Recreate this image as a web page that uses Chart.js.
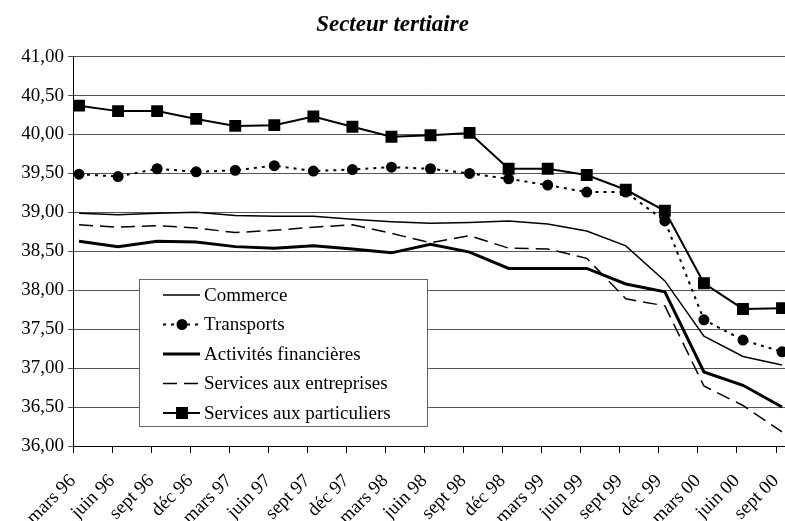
<!DOCTYPE html>
<html>
<head>
<meta charset="utf-8">
<script src="https://cdn.jsdelivr.net/npm/chart.js@4.4.0/dist/chart.umd.min.js"></script>
<style>
  html, body { margin: 0; padding: 0; background: #fff; }
  #wrap { width: 785px; height: 521px; }
</style>
</head>
<body>
<div id="wrap"><canvas id="chart"></canvas></div>
<script>
/* ── Data ───────────────────────────────────────── */
const categories = ['mars 96', 'juin 96', 'sept 96', 'déc 96', 'mars 97', 'juin 97', 'sept 97', 'déc 97',
  'mars 98', 'juin 98', 'sept 98', 'déc 98', 'mars 99', 'juin 99', 'sept 99', 'déc 99',
  'mars 00', 'juin 00', 'sept 00'];

const commerce     = [38.99, 38.97, 38.99, 39.00, 38.96, 38.95, 38.95, 38.91, 38.88, 38.86,
                      38.87, 38.89, 38.85, 38.76, 38.57, 38.12, 37.41, 37.15, 37.04];
const transports   = [39.49, 39.46, 39.56, 39.52, 39.54, 39.60, 39.53, 39.55, 39.58, 39.56,
                      39.50, 39.43, 39.35, 39.26, 39.26, 38.89, 37.62, 37.36, 37.21];
const financieres  = [38.63, 38.56, 38.63, 38.62, 38.56, 38.54, 38.57, 38.53, 38.48, 38.59,
                      38.49, 38.28, 38.28, 38.28, 38.08, 37.98, 36.95, 36.78, 36.50];
const entreprises  = [38.84, 38.81, 38.83, 38.80, 38.74, 38.77, 38.81, 38.84, 38.73, 38.61,
                      38.70, 38.54, 38.53, 38.41, 37.89, 37.80, 36.77, 36.52, 36.18];
const particuliers = [40.37, 40.30, 40.30, 40.20, 40.11, 40.12, 40.23, 40.10, 39.97, 39.99,
                      40.02, 39.56, 39.56, 39.48, 39.29, 39.02, 38.09, 37.76, 37.77];

const yTicks = [36, 36.5, 37, 37.5, 38, 38.5, 39, 39.5, 40, 40.5, 41];

/* ── Layout helpers ─────────────────────────────── */
const FONT = '"Liberation Serif", "Times New Roman", serif';
const X_SHIFT = -0.154;          // tick marks sit a little left of the points
const toXY = arr => arr.map((v, i) => ({ x: i, y: v }));
const fmt = v => v.toFixed(2).replace('.', ',');

/* ── Legend box drawn inside the plot ───────────── */
const boxLegend = {
  id: 'boxLegend',
  afterDatasetsDraw(chart) {
    const ctx = chart.ctx;
    const x0 = 139, y0 = 279, w = 288, h = 147;
    ctx.save();
    ctx.fillStyle = '#fff';
    ctx.fillRect(x0, y0, w, h);
    ctx.strokeStyle = '#666';
    ctx.lineWidth = 1;
    ctx.strokeRect(x0 + 0.5, y0 + 0.5, w, h);
    ctx.font = `19px ${FONT}`;
    ctx.textBaseline = 'middle';
    chart.data.datasets.forEach((ds, i) => {
      const y = 295 + i * 29.5;
      ctx.strokeStyle = '#000';
      ctx.lineWidth = ds.borderWidth;
      ctx.setLineDash(ds.borderDash || []);
      ctx.beginPath();
      ctx.moveTo(163, y);
      ctx.lineTo(200, y);
      ctx.stroke();
      ctx.setLineDash([]);
      if (ds.pointRadius > 0) {
        Chart.helpers.drawPoint(ctx, { pointStyle: ds.pointStyle, radius: ds.pointRadius, borderWidth: 1, rotation: 0 }, 182, y);
        ctx.fillStyle = '#000';
        ctx.fill();
      }
      ctx.fillStyle = '#000';
      ctx.fillText(ds.label, 204, y + 1);
    });
    ctx.restore();
  }
};

/* ── Chart ──────────────────────────────────────── */
const line = (label, data, extra) => Object.assign({
  label,
  data: toXY(data),
  borderColor: '#000',
  backgroundColor: '#000',
  pointBackgroundColor: '#000',
  pointBorderColor: '#000',
  pointRadius: 0,
  tension: 0,
  clip: false,
}, extra);

new Chart(document.getElementById('chart'), {
  type: 'line',
  data: {
    datasets: [
      line('Commerce', commerce, { borderWidth: 1.5 }),
      line('Transports', transports, { borderWidth: 2, borderDash: [3, 5], pointStyle: 'circle', pointRadius: 4.5 }),
      line('Activités financières', financieres, { borderWidth: 3 }),
      line('Services aux entreprises', entreprises, { borderWidth: 1.5, borderDash: [14, 7] }),
      line('Services aux particuliers', particuliers, { borderWidth: 2, pointStyle: 'rect', pointRadius: 7 }),
    ]
  },
  options: {
    responsive: true,
    maintainAspectRatio: false,
    animation: false,
    layout: { autoPadding: false, padding: { left: 0, right: 0, top: 0, bottom: 0 } },
    plugins: {
      legend: { display: false },
      tooltip: { enabled: false },
      title: {
        display: true,
        text: 'Secteur tertiaire',
        color: '#000',
        font: { family: FONT, size: 23, style: 'italic', weight: 'bold' },
        padding: { top: 11, bottom: 18 }
      }
    },
    scales: {
      x: {
        type: 'linear',
        min: X_SHIFT,
        max: X_SHIFT + 18.23,
        afterBuildTicks: axis => { axis.ticks = categories.map((_, i) => ({ value: i + X_SHIFT })); },
        afterFit: axis => { axis.height = 75; axis.paddingLeft = 0; axis.paddingRight = 0; },
        grid: { drawOnChartArea: false, drawTicks: true, tickLength: 7, color: '#000' },
        border: { color: '#000', width: 1 },
        ticks: {
          autoSkip: false,
          maxRotation: 45,
          minRotation: 45,
          padding: 17,
          color: '#000',
          font: { family: FONT, size: 19 },
          callback: v => categories[Math.round(v - X_SHIFT)]
        }
      },
      y: {
        min: 36,
        max: 41,
        afterBuildTicks: axis => { axis.ticks = yTicks.map(v => ({ value: v })); },
        afterFit: axis => { axis.width = 73; },
        grid: { color: '#555', lineWidth: 1, tickLength: 5 },
        border: { color: '#000', width: 1 },
        ticks: {
          padding: 4,
          color: '#000',
          font: { family: FONT, size: 19 },
          callback: v => fmt(v)
        }
      }
    }
  },
  plugins: [boxLegend]
});
</script>
</body>
</html>
